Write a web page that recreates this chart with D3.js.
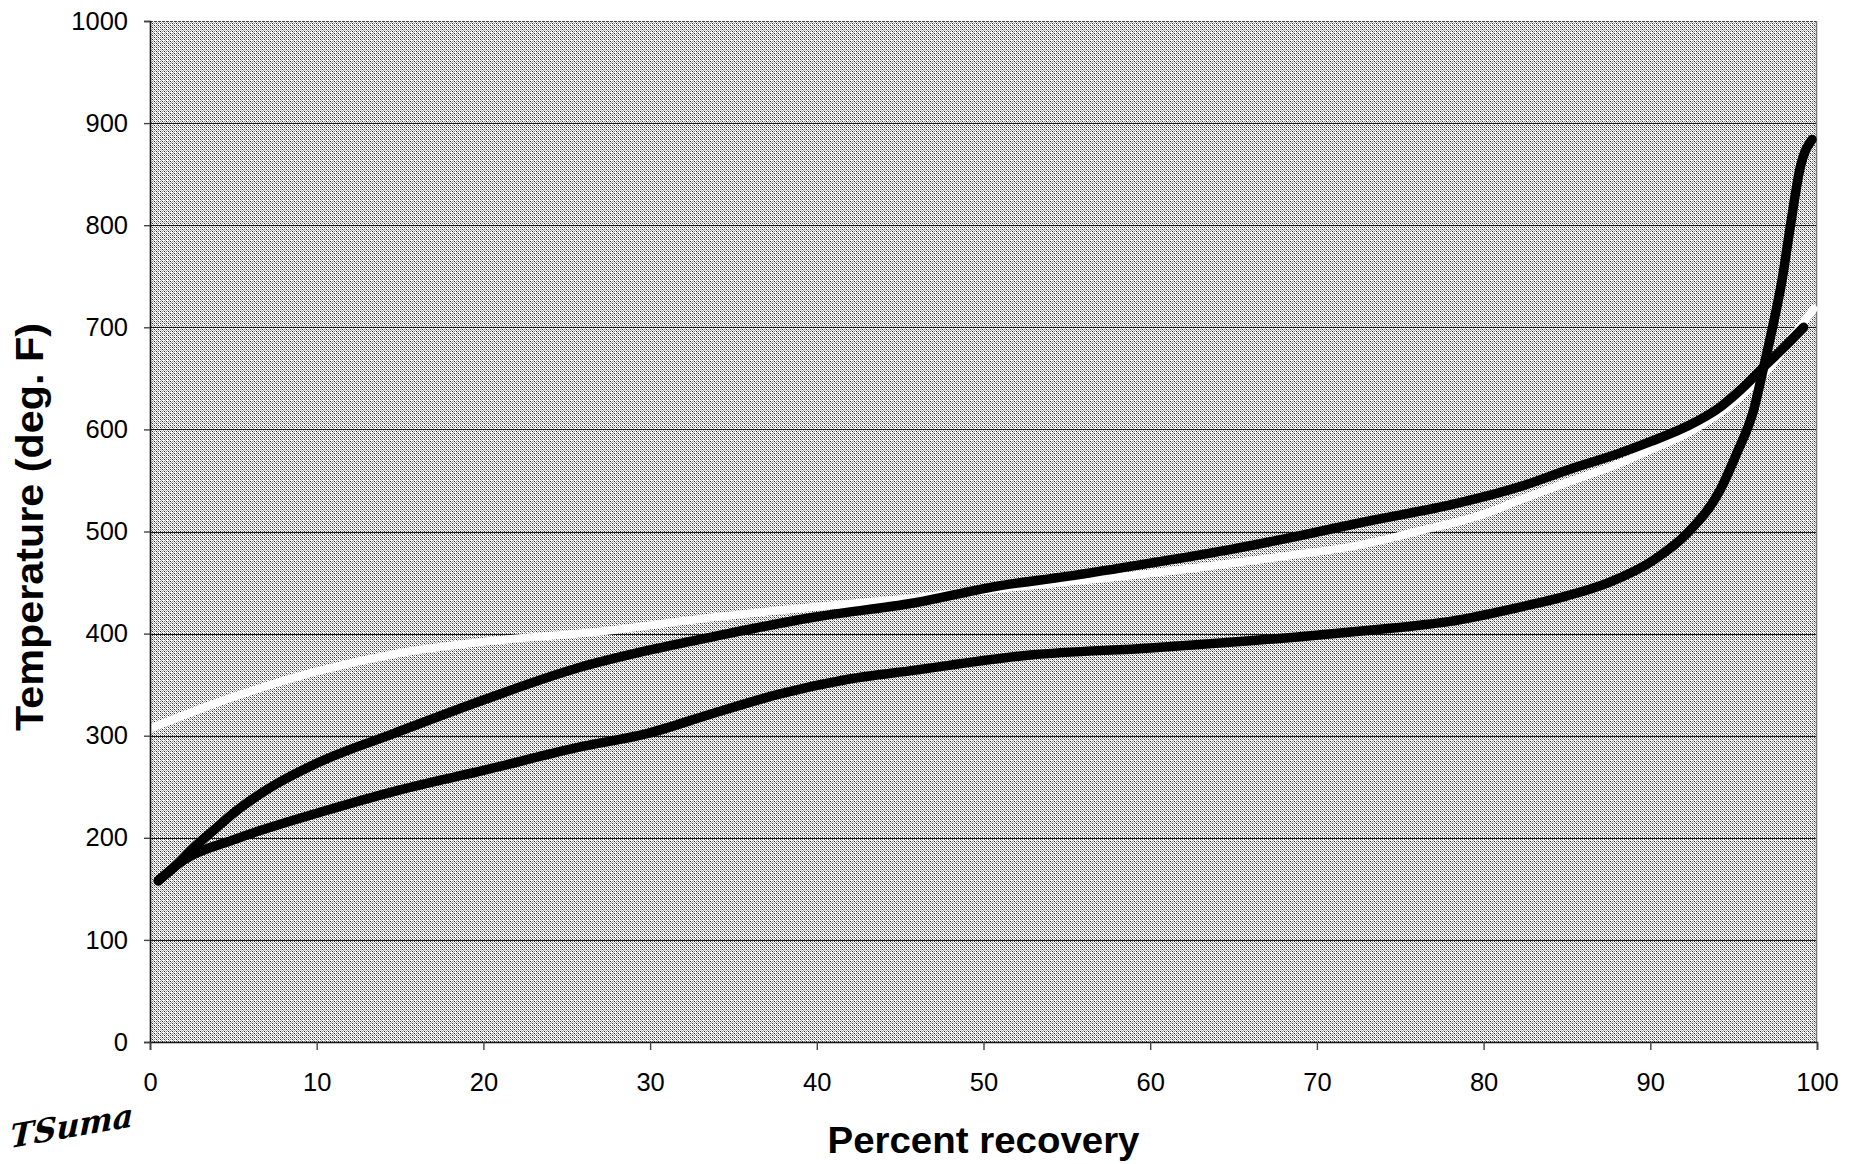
<!DOCTYPE html>
<html>
<head>
<meta charset="utf-8">
<script src="https://cdn.jsdelivr.net/npm/d3@7"></script>
<style>
  html, body { margin: 0; padding: 0; background: #fff; }
  svg { display: block; }
</style>
</head>
<body>
<svg id="chart" width="1860" height="1164"></svg>
<script>
// Distillation curves: temperature vs. percent recovered

// Upper black curve
const upperRecovery = [0.5, 1.5, 2.6, 4, 5, 7, 10, 14.6, 20, 25.8, 30, 33.8, 39.8, 45.8, 51, 55, 60, 65, 69, 73, 78, 82.2, 85, 88.2, 90, 92.2, 94.2, 95.5, 96.8, 98, 99.2];
const upperTemp     = [158, 172, 190, 210, 224, 247, 273, 302, 335, 367, 384, 397, 416, 430, 447, 456, 469, 483, 496, 510, 526, 544, 560, 577, 588, 603, 622, 640, 661, 680, 700];

// Lower black curve
const lowerRecovery = [0.5, 2, 5, 10, 15, 20, 25.8, 29.8, 33.8, 37.8, 41.8, 45.8, 52.8, 60, 69, 73, 76, 78, 82.2, 85, 87.5, 90.2, 92.2, 94.2, 95.2, 96.2, 96.8, 97.4, 97.9, 98.4, 99, 99.7];
const lowerTemp     = [158, 178, 198, 224, 247, 266, 289, 302, 322, 341, 355, 364, 379, 386, 397, 403, 408, 412, 426, 437, 450, 472, 498, 541, 577, 619, 661, 705, 746, 799, 857, 884];

// White curve
const whiteRecovery = [0, 5, 10, 15, 20, 27, 33.8, 39.8, 45.8, 51, 60, 69, 72, 76, 80, 82.2, 85, 88.2, 90, 92.2, 95.2, 97.2, 98.5, 99.8];
const whiteTemp     = [307, 338, 363, 381, 392, 402, 416, 426, 435, 444, 459, 478, 485, 500, 517, 531, 548, 567, 580, 596, 629, 661, 690, 718];

const xTicks = [0, 10, 20, 30, 40, 50, 60, 70, 80, 90, 100];
const yTicks = [0, 100, 200, 300, 400, 500, 600, 700, 800, 900, 1000];

const xTitle = "Percent recovery";
const yTitle = "Temperature (deg. F)";
const signature = "TSuma";

const W = 1860, H = 1164;
const margin = { top: 21, right: 43, bottom: 122, left: 150 };
const iw = W - margin.left - margin.right;
const ih = H - margin.top - margin.bottom;

const svg = d3.select("#chart");
const FONT = "'Liberation Sans', Arial, Helvetica, sans-serif";

// Stippled gray fill for the plotting area
const defs = svg.append("defs");
const pat = defs.append("pattern")
  .attr("id", "stipple")
  .attr("patternUnits", "userSpaceOnUse")
  .attr("x", 0).attr("y", 0)
  .attr("width", 4).attr("height", 4);
pat.append("rect").attr("width", 4).attr("height", 4).attr("fill", "#ffffff");
const dots = [
  [0, 0, "#262626"], [2, 2, "#262626"],
  [2, 0, "#8a8a8a"], [0, 2, "#8a8a8a"],
  [1, 1, "#9a9a9a"], [3, 3, "#9a9a9a"], [3, 1, "#c8c8c8"]
];
dots.forEach(([dx, dy, c]) => {
  pat.append("rect").attr("x", dx).attr("y", dy)
    .attr("width", 1).attr("height", 1)
    .attr("fill", c).attr("shape-rendering", "crispEdges");
});

const x = d3.scaleLinear().domain([0, 100]).range([0, iw]);
const y = d3.scaleLinear().domain([0, 1000]).range([ih, 0]);

const g = svg.append("g").attr("transform", `translate(${margin.left},${margin.top})`);

g.append("rect")
  .attr("x", 0).attr("y", 0)
  .attr("width", iw).attr("height", ih)
  .attr("fill", "url(#stipple)");

// Horizontal gridlines
g.append("g")
  .selectAll("line")
  .data(yTicks.filter(t => t > 0 && t < 1000))
  .join("line")
  .attr("x1", 0).attr("x2", iw)
  .attr("y1", d => Math.round(y(d)) + 0.5)
  .attr("y2", d => Math.round(y(d)) + 0.5)
  .attr("stroke", "#1a1a1a")
  .attr("stroke-width", 1.2);

// Frame: top dotted, right gray
g.append("line")
  .attr("x1", 0).attr("x2", iw).attr("y1", 0.5).attr("y2", 0.5)
  .attr("stroke", "#444").attr("stroke-width", 1.2)
  .attr("stroke-dasharray", "3,1");
g.append("line")
  .attr("x1", iw - 0.5).attr("x2", iw - 0.5).attr("y1", 0).attr("y2", ih)
  .attr("stroke", "#777").attr("stroke-width", 1.5);

// Curves
const lineGen = d3.line()
  .x(d => x(d[0]))
  .y(d => y(d[1]))
  .curve(d3.curveMonotoneX);

const zip = (a, b) => a.map((v, i) => [v, b[i]]);

g.append("path")
  .datum(zip(whiteRecovery, whiteTemp))
  .attr("d", lineGen)
  .attr("fill", "none")
  .attr("stroke", "#ffffff")
  .attr("stroke-width", 8)
  .attr("stroke-linecap", "round")
  .attr("stroke-linejoin", "round");

g.append("path")
  .datum(zip(upperRecovery, upperTemp))
  .attr("d", lineGen)
  .attr("fill", "none")
  .attr("stroke", "#000")
  .attr("stroke-width", 9.5)
  .attr("stroke-linecap", "round")
  .attr("stroke-linejoin", "round");

g.append("path")
  .datum(zip(lowerRecovery, lowerTemp))
  .attr("d", lineGen)
  .attr("fill", "none")
  .attr("stroke", "#000")
  .attr("stroke-width", 9.5)
  .attr("stroke-linecap", "round")
  .attr("stroke-linejoin", "round");

// Axes
const yAxis = g.append("g")
  .call(d3.axisLeft(y).tickValues(yTicks).tickSize(6).tickPadding(16).tickFormat(d3.format("d")));
const xAxis = g.append("g")
  .attr("transform", `translate(0,${ih})`)
  .call(d3.axisBottom(x).tickValues(xTicks).tickSize(8).tickPadding(23).tickFormat(d3.format("d")));

[yAxis, xAxis].forEach(ax => {
  ax.select(".domain").attr("stroke", "#111").attr("stroke-width", 1.6);
  ax.selectAll(".tick line").attr("stroke", "#444").attr("stroke-width", 1.4);
  ax.selectAll(".tick text")
    .attr("font-family", FONT)
    .attr("font-size", 25.5)
    .attr("fill", "#000");
});

// Axis titles
svg.append("text")
  .attr("x", margin.left + iw / 2)
  .attr("y", 1153)
  .attr("text-anchor", "middle")
  .attr("font-family", FONT)
  .attr("font-weight", "bold")
  .attr("font-size", 36)
  .attr("textLength", 312)
  .attr("lengthAdjust", "spacingAndGlyphs")
  .attr("fill", "#000")
  .text(xTitle);

svg.append("text")
  .attr("transform", `translate(43,527) rotate(-90)`)
  .attr("text-anchor", "middle")
  .attr("font-family", FONT)
  .attr("font-weight", "bold")
  .attr("font-size", 39)
  .attr("textLength", 408)
  .attr("lengthAdjust", "spacingAndGlyphs")
  .attr("fill", "#000")
  .text(yTitle);

// Handwritten initials in the lower left corner
svg.append("text")
  .attr("transform", "translate(10,1148) rotate(-10) skewX(-12)")
  .attr("font-family", "'DejaVu Serif', 'Liberation Serif', serif")
  .attr("font-style", "italic")
  .attr("font-weight", "bold")
  .attr("font-size", 32)
  .attr("fill", "#000")
  .text(signature);
</script>
</body>
</html>
